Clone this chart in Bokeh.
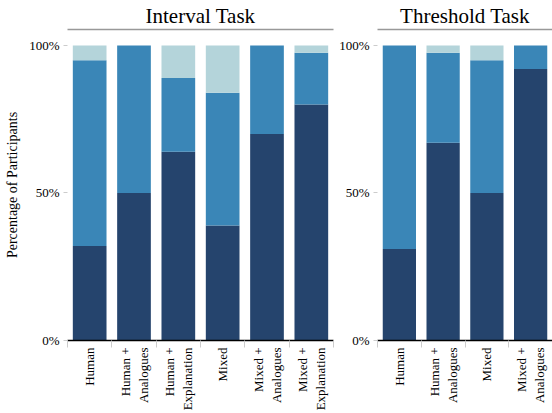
from bokeh.plotting import figure
from bokeh.models import ColumnDataSource, Range1d, FixedTicker, LinearAxis
from bokeh.layouts import row
from bokeh.embed import file_html
from bokeh.resources import INLINE

# ---- data (percent of participants) ----
interval_categories = ["Human", "Human +\nAnalogues", "Human +\nExplanation",
                       "Mixed", "Mixed +\nAnalogues", "Mixed +\nExplanation"]
interval_dark = [32, 50, 64, 39, 70, 80]
interval_mid = [63, 50, 25, 45, 30, 17.5]
interval_light = [5, 0, 11, 16, 0, 2.5]

threshold_categories = ["Human", "Human +\nAnalogues", "Mixed", "Mixed +\nAnalogues"]
threshold_dark = [31, 67, 50, 92]
threshold_mid = [69, 30.5, 45, 8]
threshold_light = [0, 2.5, 5, 0]

y_ticks = [0, 50, 100]
y_tick_labels = ["0%", "50%", "100%"]

FONT = "'Liberation Serif', 'Times New Roman', Times, Tinos, 'DejaVu Serif', serif"
COLORS = ["#25446d", "#3a86b7", "#b4d4da"]
Y_END = 105.4


def make_panel(title, cats, dark, mid, light, width, border_left, border_right, ylabel=None):
    n = len(cats)
    src = ColumnDataSource(dict(x=[i + 0.5 for i in range(n)], dark=dark, mid=mid, light=light))
    p = figure(width=width, height=413, x_range=Range1d(0, n), y_range=Range1d(0, Y_END),
               output_backend="svg", toolbar_location=None,
               min_border_left=border_left, min_border_right=border_right,
               min_border_top=29, min_border_bottom=72)
    p.vbar_stack(["dark", "mid", "light"], x="x", width=0.76, color=COLORS,
                 source=src, line_color=None)
    p.grid.visible = False
    p.outline_line_color = None

    xa = p.xaxis[0]
    xa.ticker = FixedTicker(ticks=[i + 0.5 for i in range(n)], minor_ticks=list(range(n + 1)))
    xa.major_label_overrides = {i + 0.5: c for i, c in enumerate(cats)}
    xa.major_label_orientation = 1.5707963
    xa.major_label_text_font = FONT
    xa.major_label_text_font_size = "13px"
    xa.major_label_text_color = "black"
    xa.major_label_standoff = 0
    xa.major_tick_out = 0
    xa.major_tick_in = 0
    xa.major_tick_line_color = None
    xa.minor_tick_out = 7
    xa.minor_tick_in = 0
    xa.minor_tick_line_color = "#cccccc"
    xa.axis_line_color = "black"
    xa.axis_line_width = 1.5

    ya = p.yaxis[0]
    ya.ticker = FixedTicker(ticks=y_ticks, minor_ticks=[])
    ya.major_label_overrides = dict(zip(y_ticks, y_tick_labels))
    ya.major_label_text_font = FONT
    ya.major_label_text_font_size = "13px"
    ya.major_label_text_color = "black"
    ya.major_label_standoff = 4
    ya.major_tick_out = 4
    ya.major_tick_in = 0
    ya.major_tick_line_color = "#cccccc"
    ya.axis_line_color = None
    if ylabel:
        ya.axis_label = ylabel
        ya.axis_label_text_font = FONT
        ya.axis_label_text_font_size = "14px"
        ya.axis_label_text_font_style = "normal"
        ya.axis_label_text_color = "black"
        ya.axis_label_standoff = 6

    top = LinearAxis(ticker=FixedTicker(ticks=[]), major_tick_out=0, major_tick_in=0,
                     minor_tick_out=0, minor_tick_in=0, major_label_text_font_size="0px",
                     axis_line_color="#999999", axis_line_width=1.5,
                     axis_label=title, axis_label_text_font=FONT,
                     axis_label_text_font_size="21px", axis_label_text_font_style="normal",
                     axis_label_text_color="black", axis_label_standoff=2)
    p.add_layout(top, "above")
    return p


left = make_panel("Interval Task", interval_categories, interval_dark, interval_mid, interval_light,
                  width=335, border_left=67, border_right=2, ylabel="Percentage of Participants")
right = make_panel("Threshold Task", threshold_categories, threshold_dark, threshold_mid, threshold_light,
                   width=217, border_left=42, border_right=0)

layout = row(left, right)
open("out.html", "w").write(file_html(layout, INLINE))
